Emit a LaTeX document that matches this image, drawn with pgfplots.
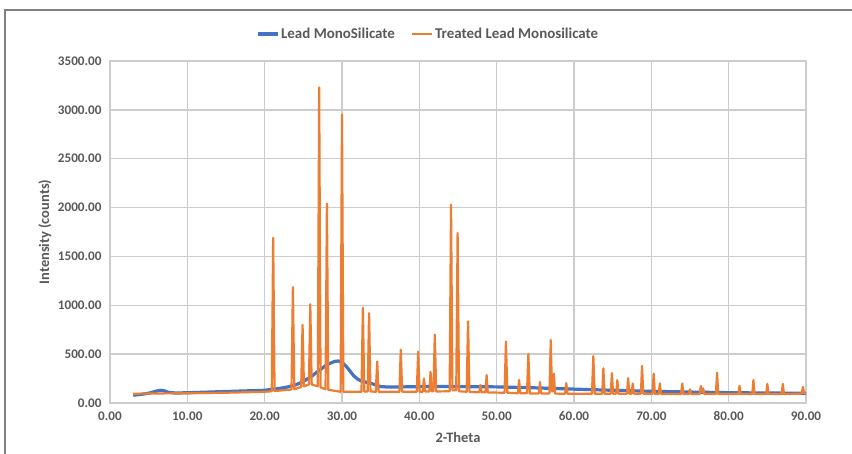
\documentclass[border=0pt]{standalone}
\usepackage{pgfplots}
\pgfplotsset{compat=1.18}
\usepackage{fontspec}
\setmainfont{Carlito}
\definecolor{xblue}{HTML}{4472C4}
\definecolor{xorange}{HTML}{ED7D31}
\definecolor{txt}{HTML}{595959}
\definecolor{gridc}{HTML}{CCCCCC}
\begin{document}
\begin{tikzpicture}
\path[use as bounding box, fill=white] (0,0) rectangle (852bp,454bp);
\draw[color={rgb,255:red,128;green,128;blue,128}, line width=1.5bp] (5bp,0) -- (5bp,444bp) -- (852bp,444bp);
\begin{axis}[
  at={(110bp,51bp)}, anchor=south west,
  scale only axis, width=696bp, height=342bp,
  xmin=0, xmax=90, ymin=0, ymax=3500,
  xtick distance=10, ytick distance=500,
  major tick length=0pt,
  grid=major,
  major grid style={color=gridc, line width=1.4bp},
  axis line style={color=gridc, line width=1.4bp},
  tick label style={font=\fontsize{13.2}{15}\selectfont\bfseries, text=txt},
  /pgf/number format/.cd, fixed, fixed zerofill, precision=2, 1000 sep={}, assume math mode=true,
  /pgfplots/.cd,
  xticklabel style={yshift=-5bp},
  yticklabel style={xshift=-5bp},
  xlabel={2-Theta}, ylabel={Intensity (counts)},
  label style={font=\fontsize{14.5}{17}\selectfont\bfseries, text=txt},
  xlabel style={at={(axis description cs:0.5,-0.102)}, anchor=center},
  ylabel style={at={(axis description cs:-0.0934,0.5)}, anchor=center},
  legend columns=2,
  legend style={at={(0.457,1.079)}, anchor=center, draw=none, fill=none,
    font=\fontsize{15}{17}\selectfont\bfseries, text=txt,
    /tikz/every even column/.append style={column sep=14bp}},
  legend image code/.code={\draw[#1] (0bp,0bp) -- (20bp,0bp);},
]
\addplot[color=xblue, line width=3.2bp, line join=round] coordinates {
(3.0,80) (4,88) (5,100) (6,122) (6.5,130) (7,125) (7.5,110) (8.5,102) (10,105)
(12,110) (14,115) (16,120) (18,125) (20,130) (21,140) (22,150) (23,165) (24,185)
(25,220) (26,270) (27,330) (28,390) (29,425) (29.5,430) (30,415) (30.5,380)
(31,330) (31.5,280) (32,245) (32.5,225) (33,215) (33.5,205) (34,195) (34.5,180)
(35,168) (36,163) (38,165) (40,168) (45,168) (50,165) (55,155) (60,142) (65,130)
(70,120) (75,112) (80,106) (85,102) (90,100)
};
\addlegendentry{Lead MonoSilicate}
\addplot[color=xorange, line width=2.2bp, line join=round] coordinates {
(3.0,95) (5,97) (10,100) (15,105) (20,115)
(20.92,120) (21.1,1690) (21.28,122)
(23.0,135) (23.47,138) (23.65,1185) (23.83,140)
(24.72,165) (24.9,800) (25.08,170)
(25.72,190) (25.9,1010) (26.08,190)
(26.87,170) (27.05,3230) (27.23,160)
(27.87,140) (28.05,2040) (28.23,135)
(29.82,115) (30.0,2950) (30.18,115)
(32.52,115) (32.7,975) (32.88,118)
(33.32,118) (33.5,920) (33.68,118)
(34.37,115) (34.55,425) (34.73,115)
(37.42,115) (37.6,545) (37.78,115)
(39.67,115) (39.85,525) (40.03,115)
(40.45,115) (40.6,250) (40.75,118)
(41.3,118) (41.45,320) (41.6,120)
(41.82,120) (42.0,700) (42.18,118)
(43.92,120) (44.1,2030) (44.28,130)
(44.77,130) (44.95,1740) (45.13,120)
(46.12,115) (46.3,835) (46.48,112)
(47.75,110) (47.9,185) (48.05,110)
(48.55,110) (48.7,285) (48.85,108)
(51.02,105) (51.2,630) (51.38,105)
(52.75,100) (52.9,235) (53.05,100)
(53.92,100) (54.1,500) (54.28,98)
(55.45,98) (55.6,215) (55.75,98)
(56.82,98) (57.0,645) (57.15,120)
(57.28,120) (57.4,300) (57.55,96)
(58.85,95) (59.0,205) (59.15,95)
(62.32,95) (62.5,480) (62.68,95)
(63.65,95) (63.8,355) (63.95,95)
(64.75,95) (64.9,305) (65.05,95)
(65.45,95) (65.6,235) (65.75,95)
(66.85,95) (67.0,255) (67.15,95)
(67.45,95) (67.6,200) (67.75,95)
(68.65,95) (68.8,380) (68.95,95)
(70.15,95) (70.3,300) (70.45,92)
(70.95,92) (71.1,200) (71.25,92)
(73.85,92) (74.0,200) (74.15,92)
(74.85,92) (75.0,140) (75.15,92)
(76.25,92) (76.4,175) (76.55,110) (76.7,150) (76.85,92)
(78.35,92) (78.5,310) (78.65,92)
(81.25,92) (81.4,175) (81.55,92)
(83.05,92) (83.2,235) (83.35,92)
(84.85,92) (85.0,195) (85.15,92)
(86.85,92) (87.0,195) (87.15,92)
(89.45,95) (89.6,165) (89.75,100) (90.0,98)
};
\addlegendentry{Treated Lead Monosilicate}
\end{axis}
\end{tikzpicture}
\end{document}
